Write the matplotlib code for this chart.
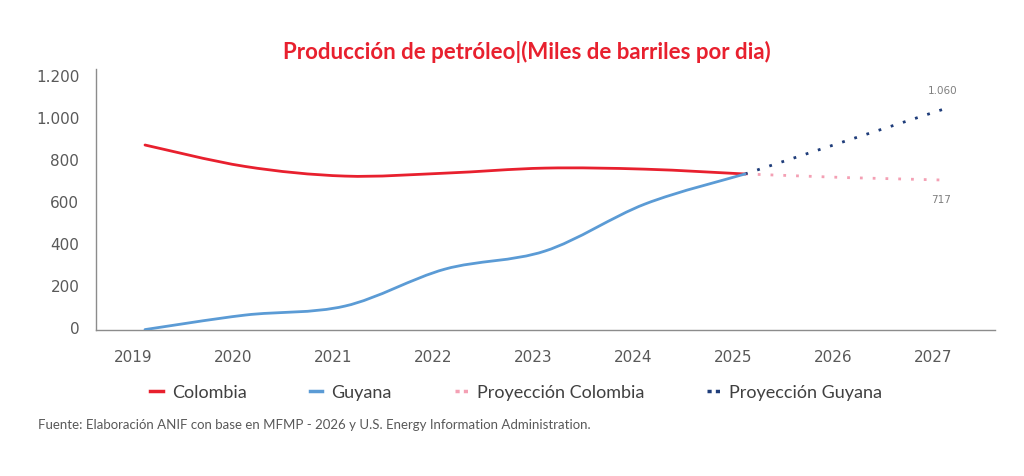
import matplotlib
matplotlib.use("Agg")
import matplotlib.pyplot as plt
from matplotlib.path import Path
from matplotlib.patches import PathPatch
from matplotlib.lines import Line2D
import numpy as np

years = ["2019", "2020", "2021", "2022", "2023", "2024", "2025", "2026", "2027"]
hist_years = ["2019", "2020", "2021", "2022", "2023", "2024", "2025"]
colombia = [867, 765, 719, 733, 757, 752, 729]
guyana = [-12, 57, 100, 276, 362, 586, 729]
proj_years = ["2025", "2026", "2027"]
proj_colombia = [729, 712, 700]
proj_guyana = [729, 885, 1040]
label_colombia = "717"
label_guyana = "1.060"
yticks = [0, 200, 400, 600, 800, 1000, 1200]
ytick_labels = ["0", "200", "400", "600", "800", "1.000", "1.200"]

RED = "#e8202e"
BLUE = "#5b9bd5"
PINK = "#f4a0b4"
NAVY = "#1f3d7a"
GRAY = "#595959"
NARROW = ["Lato", "DejaVu Sans"]

fig = plt.figure(figsize=(10.24, 4.77), dpi=100)
ax = fig.add_axes([96/1024, 1-331/477, (995-96)/1024, (331-70)/477])

OFF = 0.12  # data points sit slightly right of category labels


def xpos(labels):
    return np.array([years.index(y) for y in labels], dtype=float) + OFF


def smooth_patch(xs, ys, color, lw):
    P = np.column_stack([xs, ys]).astype(float)
    n = len(P)
    verts = [P[0]]
    codes = [Path.MOVETO]
    for i in range(n - 1):
        p0 = P[i - 1] if i > 0 else P[i]
        p1 = P[i]
        p2 = P[i + 1]
        p3 = P[i + 2] if i + 2 < n else P[i + 1]
        c1 = p1 + (p2 - p0) / 6.0
        c2 = p2 - (p3 - p1) / 6.0
        verts += [c1, c2, p2]
        codes += [Path.CURVE4] * 3
    patch = PathPatch(Path(verts, codes), fill=False, edgecolor=color,
                      lw=lw, capstyle="round", joinstyle="round", zorder=3)
    ax.add_patch(patch)


smooth_patch(xpos(hist_years), colombia, RED, 2.0)
smooth_patch(xpos(hist_years), guyana, BLUE, 2.0)
ax.plot(xpos(proj_years), proj_colombia, color=PINK, lw=2.0,
        linestyle=(0, (1, 3.6)), zorder=2)
ax.plot(xpos(proj_years), proj_guyana, color=NAVY, lw=2.0,
        linestyle=(0, (1, 3.6)), zorder=2)

ax.text(xpos(["2027"])[0] - 0.02, 1130, label_guyana, ha="center",
        va="center", fontsize=7.5, color="#7f7f7f")
ax.text(xpos(["2027"])[0] - 0.04, 610, label_colombia, ha="center",
        va="center", fontsize=7.5, color="#7f7f7f")

ax.set_xlim(-0.37, 8.62)
ax.set_ylim(-14, 1229)
ax.set_xticks(range(len(years)))
ax.set_xticklabels(years)
ax.set_yticks(yticks)
ax.set_yticklabels(ytick_labels)
ax.tick_params(axis="both", length=0, labelsize=11, labelcolor=GRAY)
ax.tick_params(axis="x", pad=14)
ax.tick_params(axis="y", pad=12)
for s in ["top", "right"]:
    ax.spines[s].set_visible(False)
for s in ["left", "bottom"]:
    ax.spines[s].set_color("#8c8c8c")
    ax.spines[s].set_linewidth(1.0)

fig.text(527/1024, 1-52/477, "Producción de petróleo|(Miles de barriles por dia)",
         ha="center", va="center", fontsize=16, color=RED, family=NARROW,
         fontweight="bold")

handles = [
    Line2D([], [], color=RED, lw=2.5),
    Line2D([], [], color=BLUE, lw=2.5),
    Line2D([], [], color=PINK, lw=2.5, linestyle=(0, (1.2, 1.2))),
    Line2D([], [], color=NAVY, lw=2.5, linestyle=(0, (1.2, 1.2))),
]
labels = ["Colombia", "Guyana", "Proyección Colombia", "Proyección Guyana"]
fig.legend(handles, labels, loc="center", bbox_to_anchor=(516/1024, 1-393/477),
           ncol=4, frameon=False, handlelength=0.7, handletextpad=0.5,
           columnspacing=3.5, prop={"family": NARROW, "size": 13},
           labelcolor="#404040")

fig.text(38/1024, 1-425/477,
         "Fuente: Elaboración ANIF con base en MFMP - 2026 y U.S. Energy Information Administration.",
         ha="left", va="center", fontsize=9.5, color=GRAY, family=NARROW)

fig.savefig("out.png", dpi=100, facecolor="white")
